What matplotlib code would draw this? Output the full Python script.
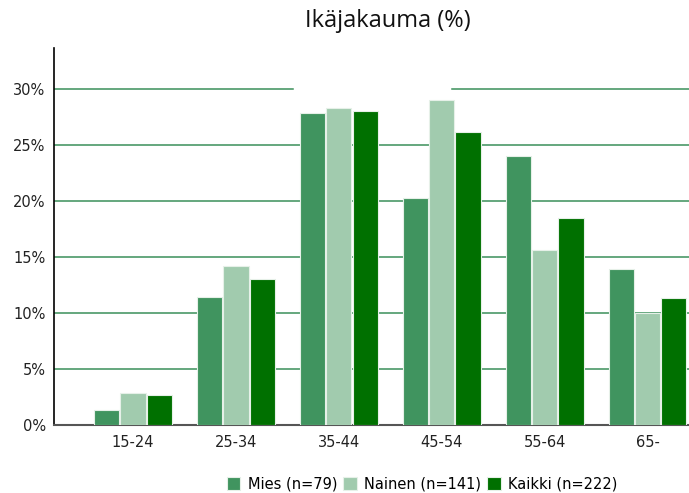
import matplotlib.pyplot as plt
import numpy as np

categories = ["15-24", "25-34", "35-44", "45-54", "55-64", "65-"]
series_names = ["Mies (n=79)", "Nainen (n=141)", "Kaikki (n=222)"]
mies = [1.3, 11.4, 27.9, 20.3, 24.0, 13.9]
nainen = [2.9, 14.2, 28.3, 29.0, 15.6, 10.0]
kaikki = [2.7, 13.0, 28.0, 26.2, 18.5, 11.3]
yticks = [0, 5, 10, 15, 20, 25, 30]

colors = ["#40945f", "#a1cbae", "#007000"]
grid_color = "#3b8f5a"

fig = plt.figure(figsize=(6.89, 4.93), dpi=100)
ax = fig.add_axes([54 / 689, 68 / 493, 635 / 689, 377 / 493])

x = np.arange(len(categories))
step = 0.2556
width = 0.245
for k, (vals, name) in enumerate(zip([mies, nainen, kaikki], series_names)):
    ax.bar(x + (k - 1) * step, vals, width, color=colors[k], label=name,
           edgecolor="#e6f0e8", linewidth=0.8, zorder=3)

# gridlines (the top one has a gap under the title area)
for t in yticks[1:-1]:
    ax.axhline(t, color=grid_color, lw=1.1, zorder=1)
ax.axhline(30, xmin=0, xmax=0.376, color=grid_color, lw=1.1, zorder=1)
ax.axhline(30, xmin=0.626, xmax=1, color=grid_color, lw=1.1, zorder=1)

ax.set_xlim(-0.768, 5.403)
ax.set_ylim(0, 33.66)
ax.set_xticks(x, categories)
ax.set_yticks(yticks, [f"{t}%" for t in yticks])
ax.tick_params(length=0, labelsize=10.5, colors="#222222")
ax.tick_params(axis="x", pad=7)
ax.tick_params(axis="y", pad=6)
for s in ["top", "right"]:
    ax.spines[s].set_visible(False)
ax.spines["left"].set_color("black")
ax.spines["left"].set_linewidth(1.2)
ax.spines["bottom"].set_color("#555555")
ax.spines["bottom"].set_linewidth(1.5)

fig.text(388 / 689, 1 - 21 / 493, "Ikäjakauma (%)", ha="center", va="center",
         fontsize=17, family="Open Sans", color="#111111")

fig.legend(loc="center", bbox_to_anchor=(422 / 689, 1 - 484 / 493), ncol=3,
           frameon=False, fontsize=10.5, handlelength=0.95, handleheight=0.95,
           handletextpad=0.5, columnspacing=0.4, borderpad=0)

fig.savefig("out.png", dpi=100)
